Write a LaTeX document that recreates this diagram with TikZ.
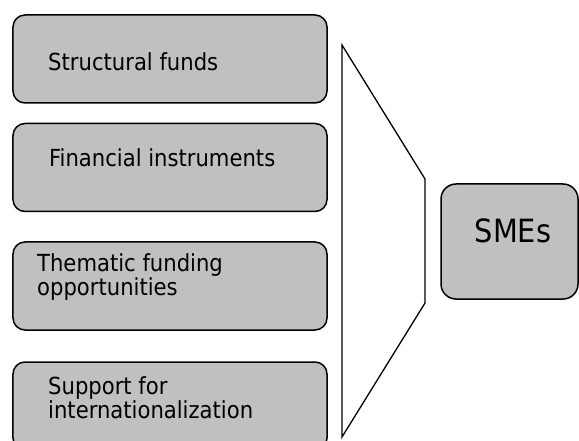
\documentclass[tikz,border=0pt]{standalone}
\usepackage{fontspec}
\setmainfont{DejaVu Sans Condensed}
\usepackage{tikz}

\tikzset{
  fundbox/.style={draw, line width=1.5bp, fill=boxgray, rounded corners=12bp,
    minimum width=314bp, minimum height=88bp, inner sep=0pt},
  fundtext/.style={anchor=west, inner sep=0pt, align=left,
    font=\fontsize{23.5bp}{24bp}\selectfont},
  smebox/.style={draw, line width=1.5bp, fill=boxgray, rounded corners=15bp,
    minimum width=137bp, minimum height=115bp, inner sep=0pt},
}
\definecolor{boxgray}{HTML}{C0C0C0}

\begin{document}
\begin{tikzpicture}[x=1bp, y=-1bp]
    \useasboundingbox (0,0) rectangle (579,441);

    % Funding boxes
    \node[fundbox] (structural) at (170,59) {};
    \node[fundbox] (financial) at (170,167.5) {};
    \node[fundbox] (thematic) at (170,286) {};
    \node[fundbox] (support) at (170,406) {};

    % Box texts
    \node[fundtext] (structuraltxt) at (48,62) {Structural funds};
    \node[fundtext] (financialtxt) at (49,158) {Financial instruments};
    \node[fundtext] (thematictxt) at (37,277) {Thematic funding\\opportunities};
    \node[fundtext] (supporttxt) at (48,398) {Support for\\internationalization};

    % Funnel
    \coordinate (ftop) at (342,45);
    \coordinate (fupper) at (425,179);
    \coordinate (flower) at (425,303);
    \coordinate (fbottom) at (342,437);
    \draw[line width=1.3bp, line join=miter] (ftop) -- (fupper) -- (flower) -- (fbottom) -- cycle;

    % Target
    \node[smebox] (smes) at (509.5,241.5) {};
    \node[inner sep=0pt, font=\fontsize{32bp}{34bp}\selectfont] (smestxt) at (513,231) {SMEs};
\end{tikzpicture}
\end{document}
